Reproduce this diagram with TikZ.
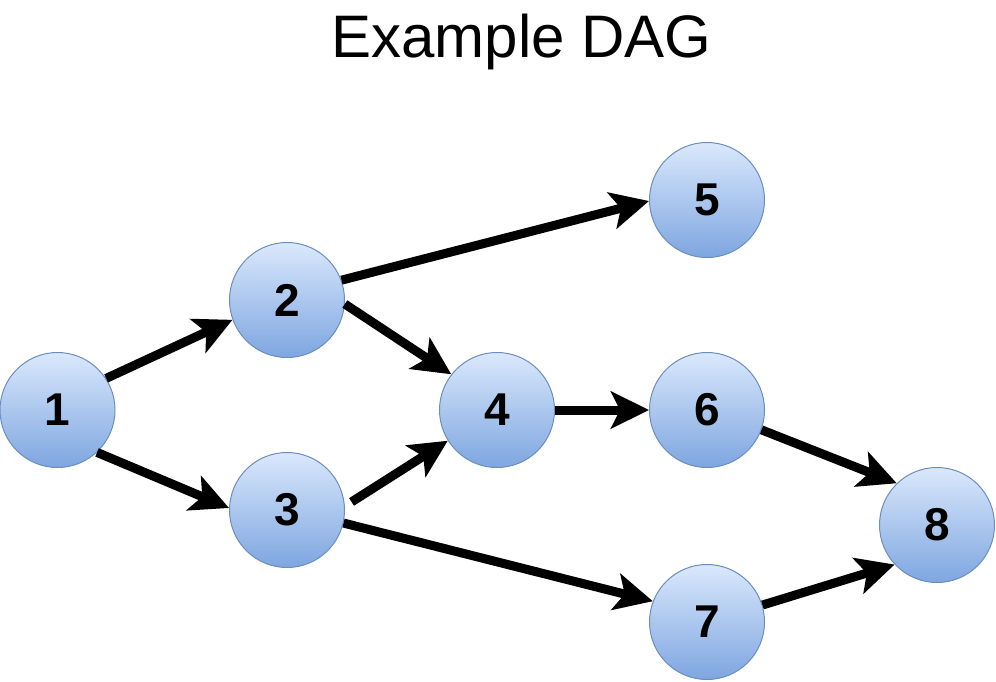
\documentclass[tikz,border=0pt]{standalone}
\usepackage{fontspec}
\setmainfont{Liberation Sans}
\usetikzlibrary{arrows.meta}
\definecolor{vtop}{HTML}{DAE8FC}
\definecolor{vbot}{HTML}{7EA6E0}
\definecolor{vline}{HTML}{6C8EBF}
\tikzset{
  vertex/.style={circle, minimum size=115pt, inner sep=0pt, draw=vline,
    line width=1pt, top color=vtop, bottom color=vbot,
    font=\fontsize{46}{50}\selectfont\bfseries},
  edge/.style={line width=9pt, draw=black,
    -{Stealth[length=38pt, width=37pt, inset=9pt]}},
}
\begin{document}
\begin{tikzpicture}[x=1pt, y=-1pt]
  \useasboundingbox (0,0) rectangle (996,682);
  \node[anchor=base, font=\fontsize{60}{66}\selectfont] (title) at (521.5,57.5) {Example DAG};

  \node[vertex] (n1) at (57.5,410) {1};
  \node[vertex] (n2) at (287,300) {2};
  \node[vertex] (n3) at (287,510) {3};
  \node[vertex] (n4) at (497,410) {4};
  \node[vertex] (n5) at (707,200) {5};
  \node[vertex] (n6) at (707,410) {6};
  \node[vertex] (n7) at (707,622) {7};
  \node[vertex] (n8) at (937,525) {8};

  \draw[edge] (n1.33)  -- (n2.200);
  \draw[edge] (n1.-47) -- (n3.178);
  \draw[edge] (n2.20)  -- (n5.181);
  \draw[edge] (n2.-4)  -- (n4.142);
  \draw[edge] ([shift={(7,-1)}]n3.7) -- (n4.212);
  \draw[edge] (n3.-13) -- (n7.159);
  \draw[edge] (n4.0)   -- (n6.180);
  \draw[edge] (n6.-20) -- (n8.134);
  \draw[edge] (n7.17)  -- (n8.223);
\end{tikzpicture}
\end{document}
